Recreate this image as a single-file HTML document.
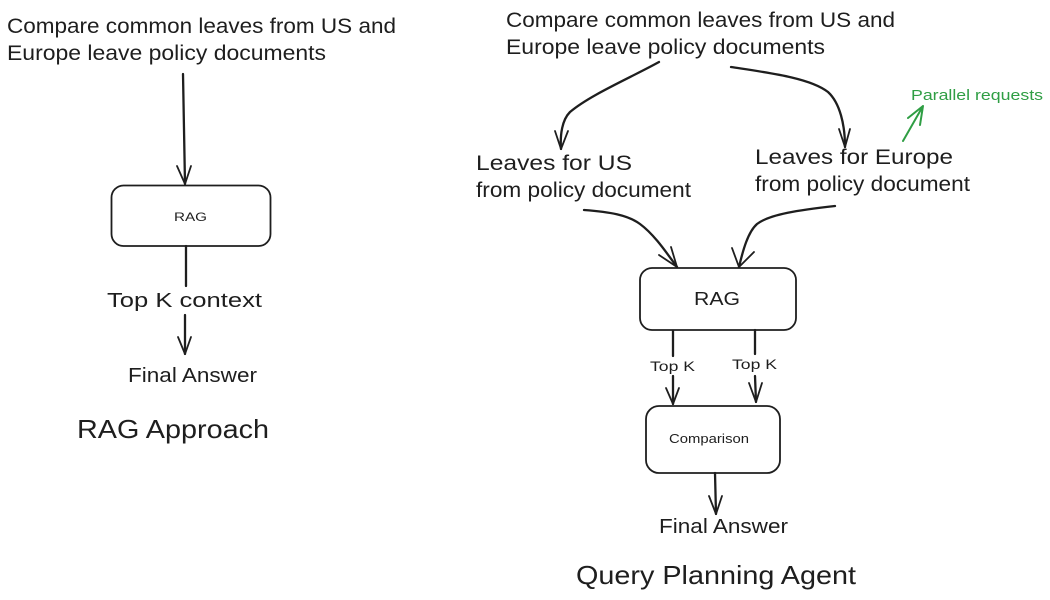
<!DOCTYPE html>
<html>
<head>
<meta charset="utf-8">
<style>
html,body{margin:0;padding:0;background:#fff;width:1050px;height:600px;overflow:hidden}
svg{display:block}
text{font-family:"Liberation Sans",sans-serif;fill:#1e1e1e}
.l{fill:none;stroke:#1e1e1e;stroke-width:1.8;stroke-linecap:round;stroke-linejoin:round}
.t{stroke-width:2.3}
.b{fill:none;stroke:#1e1e1e;stroke-width:1.8}
</style>
</head>
<body>
<svg width="1050" height="600" viewBox="0 0 1050 600" xmlns="http://www.w3.org/2000/svg">
<rect width="1050" height="600" fill="#fff"/>

<!-- Left: RAG approach -->
<text x="7" y="33" font-size="21" textLength="389" lengthAdjust="spacingAndGlyphs">Compare common leaves from US and</text>
<text x="7" y="60" font-size="21" textLength="319" lengthAdjust="spacingAndGlyphs">Europe leave policy documents</text>
<path class="l t" d="M183 74 L185 184"/>
<path class="l" d="M177 166 L185 184 L191 166"/>
<rect class="b" x="111.500" y="185.500" width="159" height="60.500" rx="12"/>
<text x="174" y="221" font-size="12" textLength="33" lengthAdjust="spacingAndGlyphs">RAG</text>
<path class="l t" d="M186 246 L186 286"/>
<text x="107" y="307" font-size="20" textLength="155" lengthAdjust="spacingAndGlyphs">Top K context</text>
<path class="l t" d="M185 315 L185 354"/>
<path class="l" d="M178 337 L185 354 L191 337"/>
<text x="128" y="382" font-size="20" textLength="129" lengthAdjust="spacingAndGlyphs">Final Answer</text>
<text x="77" y="438" font-size="26" textLength="192" lengthAdjust="spacingAndGlyphs">RAG Approach</text>

<!-- Right: Query planning agent -->
<text x="506" y="27" font-size="21" textLength="389" lengthAdjust="spacingAndGlyphs">Compare common leaves from US and</text>
<text x="506" y="54" font-size="21" textLength="319" lengthAdjust="spacingAndGlyphs">Europe leave policy documents</text>

<path class="l t" d="M659 62 C630 78 590 95 570 112 C562 120 560 135 561 149"/>
<path class="l" d="M555 131 L561 149 L568 131"/>
<path class="l t" d="M731 67 C770 73 810 78 828 92 C840 103 845 125 845 147"/>
<path class="l" d="M839 129 L845 147 L850 129"/>

<text x="476" y="170" font-size="21" textLength="156" lengthAdjust="spacingAndGlyphs">Leaves for US</text>
<text x="476" y="197" font-size="21" textLength="215" lengthAdjust="spacingAndGlyphs">from policy document</text>
<text x="755" y="164" font-size="21" textLength="198" lengthAdjust="spacingAndGlyphs">Leaves for Europe</text>
<text x="755" y="191" font-size="21" textLength="215" lengthAdjust="spacingAndGlyphs">from policy document</text>

<text x="911" y="100" font-size="15" textLength="132" lengthAdjust="spacingAndGlyphs" style="fill:#2f9e44">Parallel requests</text>
<path d="M903 141 L923 106 M908 118 L923 106 L920 125" fill="none" stroke="#2f9e44" stroke-width="2" stroke-linecap="round" stroke-linejoin="round"/>

<path class="l t" d="M584 210 C610 212 628 215 640 224 C655 235 668 255 677 267"/>
<path class="l" d="M659 255 L677 267 L671 247"/>
<path class="l t" d="M835 206 C800 210 770 214 757 224 C748 232 743 250 739 267"/>
<path class="l" d="M732 248 L739 267 L754 252"/>

<rect class="b" x="640" y="268" width="156" height="62" rx="12"/>
<text x="694" y="305" font-size="18" textLength="46" lengthAdjust="spacingAndGlyphs">RAG</text>

<path class="l t" d="M673 331 L673 356"/>
<text x="650" y="371" font-size="14" textLength="45" lengthAdjust="spacingAndGlyphs">Top K</text>
<path class="l t" d="M673 376 L673 404"/>
<path class="l" d="M666 388 L673 404 L679 388"/>
<path class="l t" d="M755 330 L755 354"/>
<text x="732" y="369" font-size="14" textLength="45" lengthAdjust="spacingAndGlyphs">Top K</text>
<path class="l t" d="M755 376 L756 402"/>
<path class="l" d="M749 383 L756 402 L762 383"/>

<rect class="b" x="646" y="406" width="134" height="67" rx="13"/>
<text x="669" y="443" font-size="13" textLength="80" lengthAdjust="spacingAndGlyphs">Comparison</text>

<path class="l t" d="M715 473 L716 514"/>
<path class="l" d="M709 496 L716 514 L722 496"/>
<text x="659" y="533" font-size="20" textLength="129" lengthAdjust="spacingAndGlyphs">Final Answer</text>
<text x="576" y="584" font-size="26" textLength="280" lengthAdjust="spacingAndGlyphs">Query Planning Agent</text>
</svg>
</body>
</html>
